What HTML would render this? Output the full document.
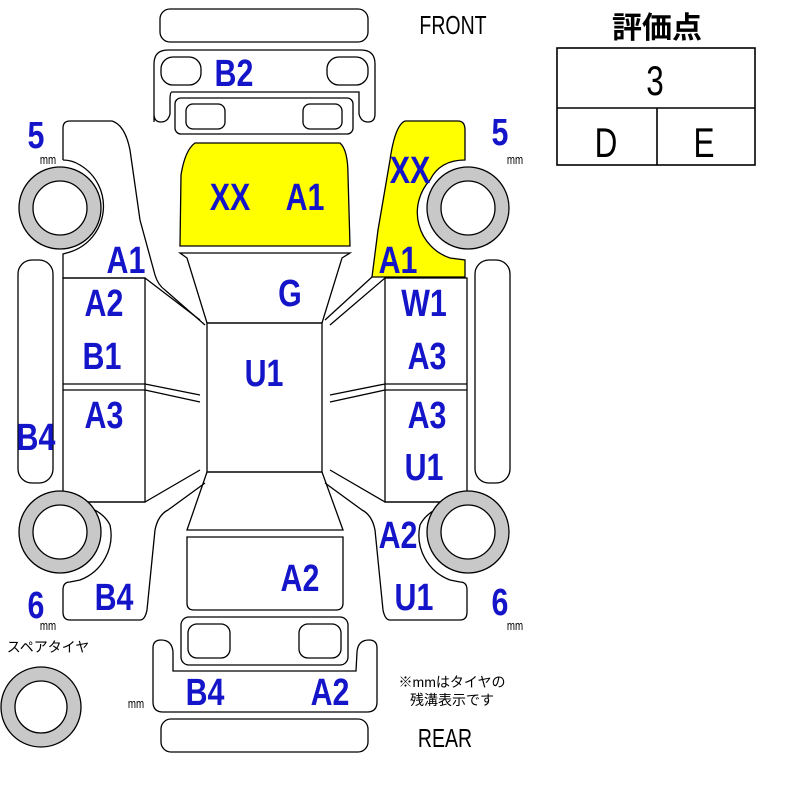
<!DOCTYPE html>
<html><head><meta charset="utf-8"><style>
html,body{margin:0;padding:0;background:#fff;width:800px;height:800px;overflow:hidden}
svg{display:block}
text{transform-box:fill-box;transform-origin:center}
.l text{font-family:"Liberation Sans",sans-serif;font-weight:bold;fill:#1414c8;font-size:38px;text-anchor:middle;transform:scaleX(0.8)}
text.k,.m text{font-family:"Liberation Sans",sans-serif;fill:#000;text-anchor:middle;transform:scaleX(0.75)}
.j{font-family:"Liberation Sans","Noto Sans CJK JP",sans-serif;fill:#000;text-anchor:middle}
</style></head><body>
<svg width="800" height="800" viewBox="0 0 800 800" xmlns="http://www.w3.org/2000/svg">
<g fill="none" stroke="#000" stroke-width="1.3">
<rect x="160" y="9" width="208" height="33" rx="10"/>
<path d="M154 122 L154 64 Q154 50 168 50 L361 50 Q375 50 375 64 L375 114 Q375 122 368 122 Q361 122 359 114 L359 92 L172 92 Q170 92 170 100 L170 114 Q168 122 161 122 Q154 122 154 114Z"/>
<rect x="161" y="57" width="40" height="28" rx="12"/>
<rect x="327" y="57" width="41" height="28" rx="12"/>
<rect x="175" y="98" width="178" height="36" rx="6"/>
<rect x="186" y="104" width="39" height="25" rx="7"/>
<rect x="303" y="104" width="39" height="25" rx="7"/>
<path d="M180 246 L181 175 Q185 150 195 143 L340 143 Q348 150 348 175 L350 246 Z" fill="#ffff00"/>
<path d="M180 253 L350 253 L342 258 L322 323 L207 323 L187 258 Z"/>
<rect x="207" y="323" width="115" height="149"/>
<path d="M207 472 L322 472 L343 530 L187 530 Z"/>
<path d="M187 537 L343 537 L343 603 Q343 610 336 610 L194 610 Q187 610 187 603 Z"/>
<rect x="181" y="617" width="167" height="48" rx="8"/>
<rect x="188" y="624" width="42" height="34" rx="9"/>
<rect x="299" y="624" width="42" height="34" rx="9"/>
<path d="M153 648 Q153 640 161 640 Q172 640 173 652 L173 671 L356 671 L357 652 Q358 640 369 640 Q377 640 377 648 L377 702 Q377 712 367 712 L163 712 Q153 712 153 702 Z"/>
<rect x="161" y="719" width="207" height="33" rx="10"/>
<path d="M63 160 L63 128 Q63 121 70 121 L112 121 Q125 125 130 150 L140 220 L155 275 Q158 285 165 290 L205 325"/>
<path d="M63 160 Q72 160 80 165 A48 48 0 0 1 70 252 L63 254 L63 278 L145 278 L200 320"/>
<path d="M63 502 Q100 505 110 525 A48 48 0 0 1 80 580 L70 582 Q63 582 63 590 L63 612 Q63 620 70 620 L140 620 Q145 620 147 610 L155 530 Q158 515 168 510 L205 483"/>
<path d="M63 502 L145 502 L200 470"/>
<rect x="63" y="278" width="82" height="224"/>
<line x1="63" y1="384" x2="145" y2="384"/><line x1="63" y1="390" x2="145" y2="390"/>
<path d="M145 384 L200 395 M145 390 L200 402"/>
<rect x="18" y="260" width="35" height="223" rx="14"/>
<path d="M372 277 L378 230 L390 160 Q395 125 405 121 L458 121 Q465 121 465 130 L465 160 Q440 160 430 180 A48 48 0 0 0 450 258 L465 260 L465 277 Z" fill="#ffff00"/>
<path d="M385 278 L330 325 M372 277 L325 320"/>
<path d="M465 502 Q430 505 420 525 A48 48 0 0 0 450 580 L460 582 Q467 582 467 590 L467 612 Q467 620 460 620 L390 620 Q385 620 383 610 L375 530 Q372 515 362 510 L325 483"/>
<path d="M467 502 L385 502 L330 470"/>
<rect x="385" y="278" width="82" height="224"/>
<line x1="385" y1="384" x2="467" y2="384"/><line x1="385" y1="390" x2="467" y2="390"/>
<path d="M385 384 L330 395 M385 390 L330 402"/>
<rect x="475" y="260" width="35" height="223" rx="14"/>
<g stroke="#c8c8c8" stroke-width="14">
<circle cx="60" cy="208" r="34"/>
<circle cx="60" cy="532" r="34"/>
<circle cx="468" cy="208" r="34"/>
<circle cx="468" cy="532" r="34"/>
<circle cx="41" cy="707" r="33"/>
</g>
<g fill="#fff">
<circle cx="60" cy="208" r="27"/><circle cx="60" cy="532" r="27"/>
<circle cx="468" cy="208" r="27"/><circle cx="468" cy="532" r="27"/>
<circle cx="41" cy="707" r="26"/>
</g>
<circle cx="60" cy="208" r="41"/><circle cx="60" cy="532" r="41"/>
<circle cx="468" cy="208" r="41"/><circle cx="468" cy="532" r="41"/>
<circle cx="41" cy="707" r="40"/>
<rect x="557" y="48" width="198" height="117" stroke-width="1.6"/>
<line x1="557" y1="108" x2="755" y2="108" stroke-width="1.6"/>
<line x1="657" y1="108" x2="657" y2="165" stroke-width="1.6"/>
</g>
<text class="k" x="453" y="34" font-size="26">FRONT</text>
<text class="k" x="445" y="747" font-size="26">REAR</text>
<text class="j" x="657" y="38" font-size="30" font-weight="bold">評価点</text>
<text class="k" x="655" y="95" font-size="42">3</text>
<text class="k" x="606" y="157" font-size="42">D</text>
<text class="k" x="704" y="157" font-size="42">E</text>
<g class="l">
<text x="234" y="86">B2</text>
<text x="230" y="210">XX</text>
<text x="305" y="210">A1</text>
<text x="290" y="306">G</text>
<text x="264" y="386">U1</text>
<text x="126" y="273">A1</text>
<text x="104" y="316">A2</text>
<text x="102" y="369">B1</text>
<text x="104" y="428">A3</text>
<text x="36" y="450">B4</text>
<text x="114" y="610">B4</text>
<text x="36" y="148">5</text>
<text x="36" y="618">6</text>
<text x="410" y="183">XX</text>
<text x="500" y="145">5</text>
<text x="398" y="273">A1</text>
<text x="424" y="316">W1</text>
<text x="427" y="369">A3</text>
<text x="427" y="428">A3</text>
<text x="424" y="480">U1</text>
<text x="398" y="548">A2</text>
<text x="414" y="610">U1</text>
<text x="500" y="615">6</text>
<text x="300" y="591">A2</text>
<text x="205" y="705">B4</text>
<text x="330" y="705">A2</text>
</g>
<g class="m" font-size="13">
<text x="48" y="164">mm</text><text x="48" y="630">mm</text>
<text x="515" y="164">mm</text><text x="515" y="630">mm</text>
<text x="136" y="708">mm</text>
</g>
<text class="j" x="48" y="652" font-size="14">スペアタイヤ</text>
<text class="j" x="452" y="687" font-size="14">※mmはタイヤの</text>
<text class="j" x="452" y="705" font-size="14">残溝表示です</text>
</svg>
</body></html>
